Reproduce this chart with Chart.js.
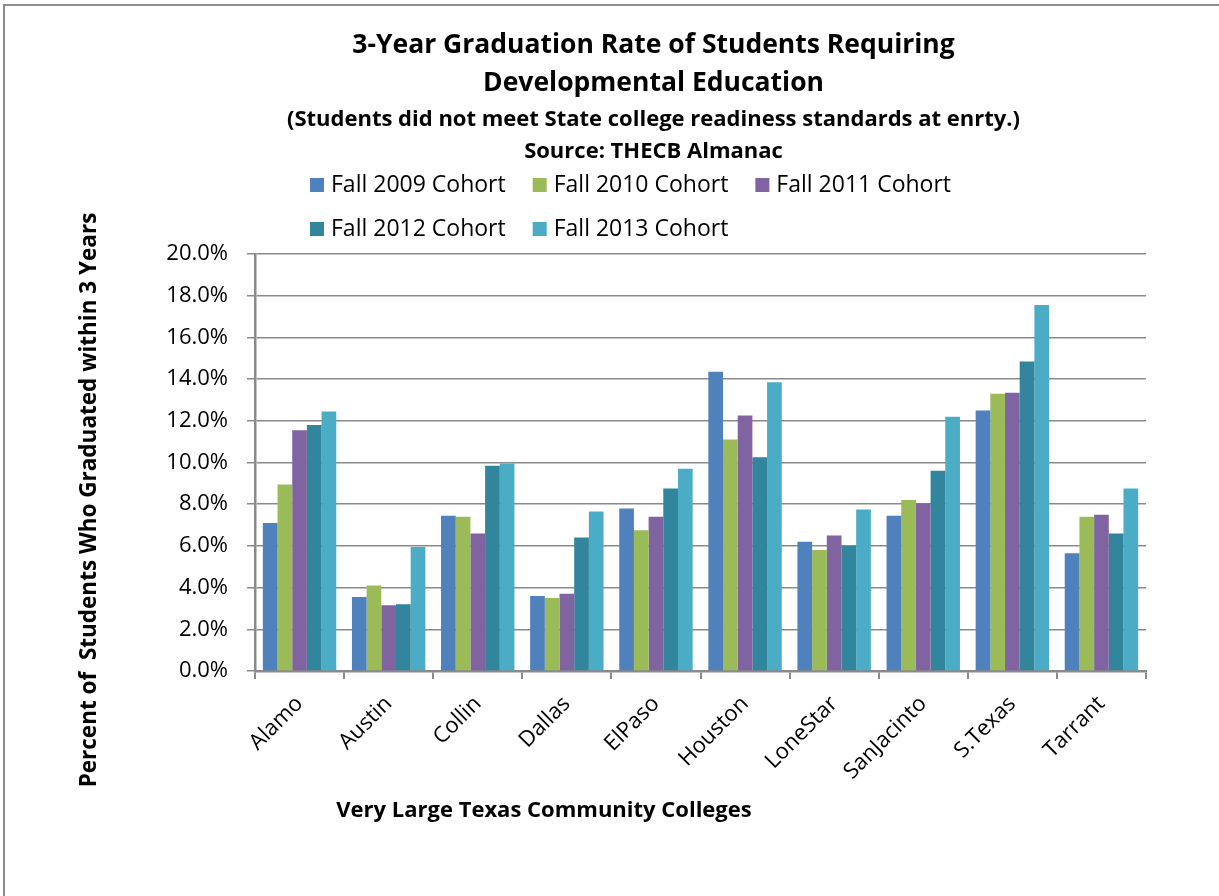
<!DOCTYPE html>
<html>
<head>
<meta charset="utf-8">
<script src="https://cdn.jsdelivr.net/npm/chart.js@4"></script>
<style>
  html, body { margin: 0; padding: 0; background: #fff; overflow: hidden; }
  #frame { position: absolute; left: 3px; top: 4px; width: 1400px; height: 1000px;
           border-top: 2px solid #8c8c8c; border-left: 2px solid #8c8c8c; }
  #wrap { position: absolute; left: 0; top: 0; width: 1219px; height: 896px; }
</style>
</head>
<body>
<div id="frame"></div>
<div id="wrap"><canvas id="chart"></canvas></div>
<script>
// Chart data (percent of students who graduated within 3 years)
const colleges = ['Alamo', 'Austin', 'Collin', 'Dallas', 'ElPaso', 'Houston', 'LoneStar', 'SanJacinto', 'S.Texas', 'Tarrant'];
const cohortLabels = ['Fall 2009 Cohort', 'Fall 2010 Cohort', 'Fall 2011 Cohort', 'Fall 2012 Cohort', 'Fall 2013 Cohort'];
const fall2009 = [7.1, 3.55, 7.45, 3.6, 7.8, 14.35, 6.2, 7.45, 12.5, 5.65];
const fall2010 = [8.95, 4.1, 7.4, 3.5, 6.75, 11.1, 5.8, 8.2, 13.3, 7.4];
const fall2011 = [11.55, 3.15, 6.6, 3.7, 7.4, 12.25, 6.5, 8.05, 13.35, 7.5];
const fall2012 = [11.8, 3.2, 9.85, 6.4, 8.75, 10.25, 6.0, 9.6, 14.85, 6.6];
const fall2013 = [12.45, 5.95, 9.95, 7.65, 9.7, 13.85, 7.75, 12.2, 17.55, 8.75];
const cohortColors = ['#4f81bd', '#9bbb59', '#8064a2', '#31859c', '#4bacc6'];

const titleLines = ['3-Year Graduation Rate of Students Requiring', 'Developmental Education'];
const subtitleLines = ['(Students did not meet State college readiness standards at enrty.)', 'Source: THECB Almanac'];
const yTitle = 'Percent of  Students Who Graduated within 3 Years';
const xTitle = 'Very Large Texas Community Colleges';

const FONT = "'Open Sans', sans-serif";
const GRID = '#8a8a8a';

// Excel-style legend: left aligned rows, 3 items per row
const excelLegend = {
  id: 'excelLegend',
  afterDraw(chart) {
    const ctx = chart.ctx;
    ctx.save();
    ctx.font = '23px ' + FONT;
    ctx.textBaseline = 'middle';
    const startX = 310, rowY = [185, 229], perRow = 3;
    let x = startX;
    chart.data.datasets.forEach((ds, i) => {
      const row = Math.floor(i / perRow);
      if (i % perRow === 0) x = startX;
      const y = rowY[row];
      ctx.fillStyle = ds.backgroundColor;
      ctx.fillRect(x, y - 7, 14, 14);
      ctx.fillStyle = '#000';
      ctx.fillText(ds.label, x + 21, y);
      x += 21 + ctx.measureText(ds.label).width + 27;
    });
    ctx.restore();
  }
};

// Axis titles placed where the original puts them
const axisTitles = {
  id: 'axisTitles',
  afterDraw(chart) {
    const ctx = chart.ctx;
    ctx.save();
    ctx.fillStyle = '#000';
    ctx.textAlign = 'center';
    ctx.textBaseline = 'middle';
    ctx.font = 'bold 22px ' + FONT;
    ctx.fillText(xTitle, 544, 811);
    ctx.font = 'bold 22.5px ' + FONT;
    ctx.translate(90, 500);
    ctx.rotate(-Math.PI / 2);
    ctx.fillText(yTitle, 0, 0);
    ctx.restore();
  }
};

const seriesData = [fall2009, fall2010, fall2011, fall2012, fall2013];

new Chart(document.getElementById('chart'), {
  type: 'bar',
  data: {
    labels: colleges,
    datasets: cohortLabels.map((label, i) => ({
      label: label,
      data: seriesData[i],
      backgroundColor: cohortColors[i],
      borderWidth: 0,
      categoryPercentage: 0.824,
      barPercentage: 1.0
    }))
  },
  options: {
    responsive: true,
    maintainAspectRatio: false,
    animation: false,
    layout: { padding: { left: 161, right: 73, top: 0, bottom: 0 } },
    plugins: {
      legend: { display: false },
      tooltip: { enabled: false },
      title: {
        display: true,
        text: titleLines,
        color: '#000',
        font: { family: FONT, size: 26.5, weight: 'bold', lineHeight: 1.47 },
        padding: { top: 25.5, bottom: 0 }
      },
      subtitle: {
        display: true,
        text: subtitleLines,
        color: '#000',
        font: { family: FONT, size: 22, weight: 'bold', lineHeight: 1.455 },
        padding: { top: 0, bottom: 86.6 }
      }
    },
    scales: {
      x: {
        afterFit: s => { s.height = 225; },
        grid: { display: true, drawOnChartArea: false, drawTicks: true, tickLength: 8, color: GRID, lineWidth: 2 },
        border: { display: true, color: GRID, width: 2.5 },
        ticks: { color: '#000', font: { family: FONT, size: 22 }, minRotation: 45, maxRotation: 45, padding: 12 }
      },
      y: {
        min: 0,
        max: 20,
        afterFit: s => { s.width = 94; },
        grid: { color: GRID, lineWidth: 1.5, tickLength: 8 },
        border: { display: true, color: GRID, width: 2.5 },
        ticks: {
          stepSize: 2,
          color: '#000',
          font: { family: FONT, size: 22 },
          padding: 19,
          callback: v => v.toFixed(1) + '%'
        }
      }
    }
  },
  plugins: [excelLegend, axisTitles]
});
</script>
</body>
</html>
